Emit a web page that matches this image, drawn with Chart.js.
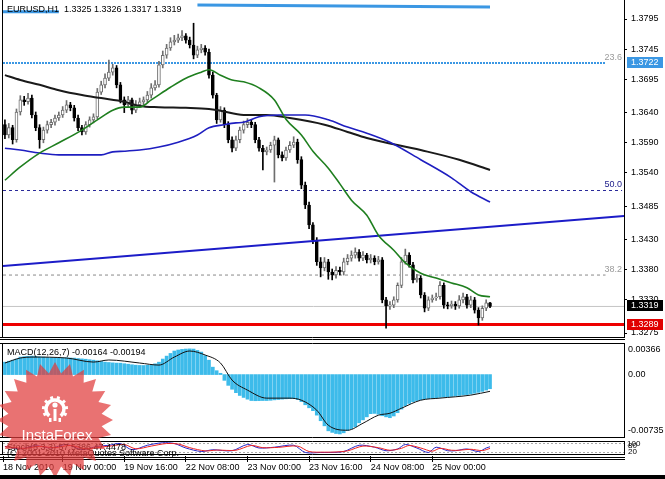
<!DOCTYPE html>
<html>
<head>
<meta charset="utf-8">
<title>EURUSD,H1</title>
<script src="https://cdn.jsdelivr.net/npm/chart.js@4.4.1/dist/chart.umd.min.js"></script>
<style>
  html, body { margin: 0; padding: 0; background: #fff; }
  #wrap { position: relative; width: 665px; height: 479px; overflow: hidden; background: #fff; }
  #wrap canvas { position: absolute; left: 0; }
  #main { top: 0; }
  #macd { top: 338px; }
  #stoch { top: 438px; }
  #logo { top: 0; pointer-events: none; }
  #strip { position: absolute; left: 0; top: 475px; width: 665px; height: 4px; background: #000; }
</style>
</head>
<body>
<div id="wrap">
  <canvas id="main" width="665" height="338"></canvas>
  <canvas id="macd" width="665" height="100"></canvas>
  <canvas id="stoch" width="665" height="37"></canvas>
  <canvas id="logo" width="665" height="479"></canvas>
  <div id="strip"></div>
</div>
<script>
// EURUSD H1 candles, bar 0 = 18 Nov 2010 09:00
var opens = [1.3620, 1.3603, 1.3615, 1.3595, 1.3641, 1.3661, 1.3658, 1.3664, 1.3636, 1.3615,
  1.3595, 1.3611, 1.3620, 1.3624, 1.3631, 1.3636, 1.3644, 1.3653, 1.3648, 1.3631,
  1.3615, 1.3608, 1.3620, 1.3628, 1.3633, 1.3674, 1.3686, 1.3697, 1.3707, 1.3714,
  1.3686, 1.3661, 1.3653, 1.3661, 1.3644, 1.3653, 1.3658, 1.3661, 1.3669, 1.3681,
  1.3686, 1.3719, 1.3735, 1.3747, 1.3757, 1.3760, 1.3764, 1.3767, 1.3760, 1.3752,
  1.3735, 1.3744, 1.3747, 1.3740, 1.3702, 1.3669, 1.3628, 1.3644, 1.3620, 1.3595,
  1.3581, 1.3595, 1.3611, 1.3620, 1.3624, 1.3620, 1.3595, 1.3581, 1.3575, 1.3578,
  1.3586, 1.3595, 1.3570, 1.3565, 1.3578, 1.3586, 1.3591, 1.3562, 1.3520, 1.3487,
  1.3454, 1.3429, 1.3393, 1.3383, 1.3393, 1.3376, 1.3371, 1.3379, 1.3376, 1.3393,
  1.3399, 1.3404, 1.3409, 1.3399, 1.3404, 1.3396, 1.3399, 1.3393, 1.3396, 1.3330,
  1.3320, 1.3321, 1.3330, 1.3354, 1.3393, 1.3404, 1.3388, 1.3363, 1.3366, 1.3338,
  1.3316, 1.3330, 1.3333, 1.3335, 1.3354, 1.3321, 1.3320, 1.3323, 1.3320, 1.3330,
  1.3335, 1.3321, 1.3330, 1.3313, 1.3300, 1.3316, 1.3325];
var closes = [1.3603, 1.3615, 1.3595, 1.3641, 1.3661, 1.3658, 1.3664, 1.3636, 1.3615, 1.3595,
  1.3611, 1.3620, 1.3624, 1.3631, 1.3636, 1.3644, 1.3653, 1.3648, 1.3631, 1.3615,
  1.3608, 1.3620, 1.3628, 1.3633, 1.3674, 1.3686, 1.3697, 1.3707, 1.3714, 1.3686,
  1.3661, 1.3653, 1.3661, 1.3644, 1.3653, 1.3658, 1.3661, 1.3669, 1.3681, 1.3686,
  1.3719, 1.3735, 1.3747, 1.3757, 1.3760, 1.3764, 1.3767, 1.3760, 1.3752, 1.3735,
  1.3744, 1.3747, 1.3740, 1.3702, 1.3669, 1.3628, 1.3644, 1.3620, 1.3595, 1.3581,
  1.3595, 1.3611, 1.3620, 1.3624, 1.3620, 1.3595, 1.3581, 1.3575, 1.3578, 1.3586,
  1.3595, 1.3570, 1.3565, 1.3578, 1.3586, 1.3591, 1.3562, 1.3520, 1.3487, 1.3454,
  1.3429, 1.3393, 1.3383, 1.3393, 1.3376, 1.3371, 1.3379, 1.3376, 1.3393, 1.3399,
  1.3404, 1.3409, 1.3399, 1.3404, 1.3396, 1.3399, 1.3393, 1.3396, 1.3330, 1.3320,
  1.3321, 1.3330, 1.3354, 1.3393, 1.3404, 1.3388, 1.3363, 1.3366, 1.3338, 1.3316,
  1.3330, 1.3333, 1.3335, 1.3354, 1.3321, 1.3320, 1.3323, 1.3320, 1.3330, 1.3335,
  1.3321, 1.3330, 1.3313, 1.3300, 1.3316, 1.3325, 1.3319];
var highs = [1.3628, 1.3622, 1.3619, 1.3646, 1.3668, 1.3667, 1.3672, 1.3669, 1.3641, 1.3620,
  1.3616, 1.3626, 1.3629, 1.3636, 1.3641, 1.3650, 1.3660, 1.3657, 1.3652, 1.3636,
  1.3619, 1.3625, 1.3633, 1.3638, 1.3680, 1.3692, 1.3704, 1.3727, 1.3720, 1.3718,
  1.3690, 1.3666, 1.3667, 1.3664, 1.3660, 1.3664, 1.3666, 1.3675, 1.3688, 1.3693,
  1.3725, 1.3742, 1.3753, 1.3764, 1.3768, 1.3770, 1.3776, 1.3771, 1.3765, 1.3788,
  1.3750, 1.3753, 1.3751, 1.3745, 1.3707, 1.3672, 1.3650, 1.3648, 1.3625, 1.3600,
  1.3601, 1.3616, 1.3626, 1.3630, 1.3628, 1.3624, 1.3599, 1.3586, 1.3583, 1.3591,
  1.3601, 1.3598, 1.3575, 1.3583, 1.3592, 1.3600, 1.3596, 1.3567, 1.3525, 1.3492,
  1.3458, 1.3433, 1.3400, 1.3400, 1.3397, 1.3381, 1.3385, 1.3384, 1.3399, 1.3405,
  1.3411, 1.3416, 1.3413, 1.3410, 1.3407, 1.3405, 1.3403, 1.3402, 1.3400, 1.3334,
  1.3327, 1.3335, 1.3358, 1.3400, 1.3414, 1.3408, 1.3392, 1.3372, 1.3370, 1.3342,
  1.3335, 1.3338, 1.3341, 1.3360, 1.3358, 1.3326, 1.3328, 1.3327, 1.3337, 1.3341,
  1.3339, 1.3336, 1.3334, 1.3317, 1.3320, 1.3330, 1.3326];
var lows = [1.3597, 1.3598, 1.3588, 1.3591, 1.3636, 1.3652, 1.3654, 1.3631, 1.3610, 1.3581,
  1.3590, 1.3606, 1.3615, 1.3619, 1.3627, 1.3632, 1.3640, 1.3643, 1.3626, 1.3610,
  1.3603, 1.3604, 1.3616, 1.3623, 1.3630, 1.3670, 1.3681, 1.3693, 1.3702, 1.3681,
  1.3656, 1.3640, 1.3648, 1.3638, 1.3640, 1.3649, 1.3653, 1.3657, 1.3664, 1.3677,
  1.3682, 1.3714, 1.3730, 1.3743, 1.3752, 1.3756, 1.3759, 1.3755, 1.3747, 1.3729,
  1.3731, 1.3739, 1.3735, 1.3697, 1.3664, 1.3622, 1.3624, 1.3615, 1.3590, 1.3575,
  1.3577, 1.3590, 1.3606, 1.3615, 1.3615, 1.3590, 1.3576, 1.3545, 1.3570, 1.3574,
  1.3525, 1.3565, 1.3560, 1.3561, 1.3574, 1.3582, 1.3556, 1.3514, 1.3481, 1.3448,
  1.3423, 1.3387, 1.3368, 1.3378, 1.3364, 1.3363, 1.3366, 1.3371, 1.3371, 1.3388,
  1.3394, 1.3399, 1.3394, 1.3395, 1.3391, 1.3391, 1.3388, 1.3389, 1.3325, 1.3283,
  1.3314, 1.3317, 1.3326, 1.3350, 1.3389, 1.3384, 1.3358, 1.3359, 1.3333, 1.3310,
  1.3312, 1.3326, 1.3329, 1.3331, 1.3316, 1.3315, 1.3316, 1.3314, 1.3316, 1.3325,
  1.3316, 1.3317, 1.3308, 1.3288, 1.3296, 1.3312, 1.3317];

var priceTicks = [1.3795, 1.3745, 1.3695, 1.3640, 1.3590, 1.3540, 1.3485, 1.3430, 1.3380, 1.3330, 1.3275];

// moving averages: [bar, price]
var maFast = [[0, 1.3528], [4, 1.3550], [9, 1.3573], [14, 1.3590], [20, 1.3611], [24, 1.3628], [28, 1.3644],
  [31, 1.3649], [35, 1.3649], [38, 1.3661], [43, 1.3682], [47, 1.3697], [51, 1.3707], [53, 1.3711], [56, 1.3702],
  [59, 1.3694], [62, 1.3691], [66, 1.3681], [70, 1.3661], [73, 1.3629], [77, 1.3603], [80, 1.3576], [84, 1.3548],
  [87, 1.3522], [90, 1.3495], [94, 1.3470], [97, 1.3437], [101, 1.3412], [104, 1.3391], [108, 1.3374],
  [112, 1.3366], [116, 1.3358], [120, 1.3350], [123, 1.3338], [126, 1.3335]];
var maMid = [[0, 1.3581], [4, 1.3578], [9, 1.3573], [14, 1.3570], [20, 1.3570], [25, 1.3570], [28, 1.3575],
  [31, 1.3576], [35, 1.3578], [40, 1.3583], [45, 1.3591], [50, 1.3603], [53, 1.3615], [57, 1.3620], [60, 1.3623],
  [62, 1.3624], [66, 1.3633], [71, 1.3636], [78, 1.3636], [84, 1.3628], [89, 1.3616], [94, 1.3606], [100, 1.3591],
  [108, 1.3562], [116, 1.3532], [121, 1.3509], [126, 1.3492]];
var maSlow = [[0, 1.3702], [4, 1.3694], [9, 1.3686], [14, 1.3677], [20, 1.3669], [25, 1.3664], [31, 1.3658],
  [35, 1.3651], [40, 1.3649], [47, 1.3648], [53, 1.3646], [56, 1.3643], [62, 1.3636], [68, 1.3636], [74, 1.3631],
  [83, 1.3620], [89, 1.3608], [94, 1.3598], [108, 1.3578], [118, 1.3562], [126, 1.3545]];

// drawn objects: [bar, price]
var trendLine = [[-0.5, 1.33859], [160.8, 1.34687]];
var topLineLeft = [[-0.5, 1.3807], [14, 1.3807]];
var topLineRight = [[50, 1.3818], [126, 1.3815]];
var fibNames = ['23.6', '50.0', '38.2'];
var fibPrices = [1.3722, 1.3511, 1.3371];
var fibEnds = [156, 160.3, 156];
var lastPrice = 1.3319;
var supportPrice = 1.3289;

// MACD(12,26,7)
var macdHist = [0.00144, 0.00155, 0.00167, 0.00180, 0.00203, 0.00208, 0.00212, 0.00214, 0.00210, 0.00206,
  0.00203, 0.00198, 0.00195, 0.00192, 0.00191, 0.00193, 0.00195, 0.00192, 0.00191, 0.00186,
  0.00182, 0.00178, 0.00172, 0.00167, 0.00160, 0.00152, 0.00144, 0.00140, 0.00136, 0.00133,
  0.00132, 0.00126, 0.00120, 0.00114, 0.00109, 0.00106, 0.00105, 0.00107, 0.00109, 0.00125,
  0.00144, 0.00180, 0.00214, 0.00245, 0.00273, 0.00285, 0.00292, 0.00296, 0.00298, 0.00296,
  0.00280, 0.00261, 0.00220, 0.00167, 0.00086, 0.00045, 0.00015, -0.00067, -0.00125, -0.00170,
  -0.00210, -0.00242, -0.00265, -0.00285, -0.00301, -0.00303, -0.00302, -0.00301, -0.00301, -0.00298,
  -0.00293, -0.00289, -0.00285, -0.00281, -0.00279, -0.00278, -0.00290, -0.00313, -0.00350, -0.00385,
  -0.00418, -0.00470, -0.00535, -0.00594, -0.00652, -0.00670, -0.00683, -0.00688, -0.00675, -0.00650,
  -0.00629, -0.00605, -0.00559, -0.00525, -0.00490, -0.00453, -0.00450, -0.00460, -0.00477, -0.00490,
  -0.00500, -0.00480, -0.00442, -0.00400, -0.00360, -0.00335, -0.00315, -0.00301, -0.00292, -0.00285,
  -0.00278, -0.00273, -0.00268, -0.00264, -0.00260, -0.00257, -0.00254, -0.00248, -0.00242, -0.00237,
  -0.00232, -0.00225, -0.00216, -0.00206, -0.00195, -0.00180, -0.00164];
var macdSignal = [[0, 0.00134], [4, 0.00192], [7, 0.00203], [16, 0.00192], [23, 0.00145], [27, 0.00169],
  [35, 0.00134], [40, 0.00110], [44, 0.00203], [48, 0.00273], [52, 0.00227], [56, 0.00134], [59, -0.00064],
  [63, -0.00180], [68, -0.00273], [74, -0.00273], [77, -0.00297], [81, -0.00413], [84, -0.00587],
  [89, -0.00645], [93, -0.00564], [97, -0.00471], [100, -0.00448], [103, -0.00390], [108, -0.00297],
  [113, -0.00273], [121, -0.00238], [126, -0.00194]];
var macdTicks = [0.00366, 0.00, -0.00735];

// Stochastic(5,3,3): [bar, value]
var stochMain = [[0, 60], [4, 45], [8, 65], [12, 50], [16, 72], [20, 40], [24, 60], [27, 67], [30, 78], [33, 39],
  [37, 67], [41, 83], [44, 78], [47, 50], [51, 28], [54, 39], [59, 33], [63, 72], [66, 50], [70, 55], [75, 67],
  [78, 22], [82, 22], [84, 22], [88, 28], [92, 67], [96, 55], [99, 33], [102, 44], [104, 72], [107, 50],
  [110, 22], [112, 55], [115, 33], [117, 33], [120, 44], [123, 28], [125, 50], [126, 57.54]];
var stochSignal = [[0, 58], [5, 48], [9, 60], [13, 52], [17, 66], [21, 45], [25, 56], [28, 64], [31, 72],
  [34, 45], [38, 62], [42, 78], [45, 75], [48, 52], [52, 32], [55, 37], [60, 36], [64, 66], [67, 52], [71, 54],
  [76, 62], [79, 28], [83, 24], [86, 25], [89, 32], [93, 62], [97, 52], [100, 36], [103, 48], [105, 66],
  [108, 50], [111, 30], [113, 48], [116, 36], [118, 36], [121, 42], [124, 34], [126, 47.45]];

var timeLabels = ['18 Nov 2010', '19 Nov 00:00', '19 Nov 16:00', '22 Nov 08:00', '23 Nov 00:00',
  '23 Nov 16:00', '24 Nov 08:00', '25 Nov 00:00'];
var timeBars = [-0.5, 15, 31, 47, 63, 79, 95, 111];

var FONT = '"Liberation Sans", Arial, sans-serif';
Chart.defaults.font.family = FONT;
Chart.defaults.font.size = 9;
Chart.defaults.color = '#000';
Chart.defaults.animation = false;

var X_MIN = -0.5, X_MAX = 160.8;
var idx = closes.map(function (c, i) { return i; });
var bull = idx.map(function (i) { return closes[i] >= opens[i]; });

function pts(arr) {
    return arr.map(function (p) { return {x: p[0], y: p[1]}; });
}
function level(price, end) {
    return [{x: X_MIN, y: price}, {x: end, y: price}];
}
// fixed axis width, and no extra room for half labels at the ends
function fixWidth(s) {
    s.width = 41;
    s.paddingTop = 0;
    s.paddingBottom = 0;
}

function baseOptions() {
    return {
        responsive: false,
        devicePixelRatio: 1,
        events: [],
        plugins: {legend: {display: false}, tooltip: {enabled: false}},
        elements: {point: {radius: 0}}
    };
}

function text(ctx, str, x, y, color, align) {
    ctx.fillStyle = color || '#000';
    ctx.textAlign = align || 'left';
    ctx.textBaseline = 'middle';
    ctx.fillText(str, x, y);
}

function hline(ctx, y, x0, x1) {
    ctx.moveTo(x0, y);
    ctx.lineTo(x1, y);
}

/*------------------------------------------------------------------------------------------*/
// main price panel
var mainOpts = baseOptions();
mainOpts.layout = {padding: {top: 3, bottom: 1, left: 3, right: 0}};
mainOpts.scales = {
    x: {type: 'linear', min: X_MIN, max: X_MAX, offset: false, display: false},
    y: {
        position: 'right', min: 1.32684, max: 1.38215, afterFit: fixWidth,
        afterBuildTicks: function (s) { s.ticks = priceTicks.map(function (v) { return {value: v}; }); },
        ticks: {padding: 4, autoSkip: false, color: '#000', callback: function (v) { return v.toFixed(4); }},
        grid: {drawOnChartArea: false, drawTicks: true, tickLength: 3, color: '#000'},
        border: {display: false}
    }
};

var mainDecor = {
    id: 'mainDecor',
    afterDraw: function (chart) {
        var ctx = chart.ctx, y = chart.scales.y;
        ctx.save();
        ctx.strokeStyle = '#000';
        ctx.lineWidth = 1;
        ctx.beginPath();
        ctx.moveTo(2.5, 0); ctx.lineTo(2.5, 337.5);
        ctx.moveTo(624.5, 0); ctx.lineTo(624.5, 337.5);
        hline(ctx, 337.5, 0, 625);
        ctx.stroke();

        ctx.font = '9px ' + FONT;
        text(ctx, 'EURUSD,H1  1.3325 1.3326 1.3317 1.3319', 7, 10);

        // fibo level captions
        var capColors = ['#9a9a9a', '#20208c', '#9a9a9a'];
        fibPrices.forEach(function (p, k) {
            text(ctx, fibNames[k], 622, y.getPixelForValue(p) - 6, capColors[k], 'right');
        });

        // price boxes on the axis
        var boxes = [[1.3722, '#3b97e3'], [lastPrice, '#000000'], [supportPrice, '#e00000']];
        boxes.forEach(function (b) {
            var py = Math.round(y.getPixelForValue(b[0]));
            ctx.fillStyle = b[1];
            ctx.fillRect(627, py - 6, 36, 11);
            text(ctx, b[0].toFixed(4), 631, py, '#fff');
        });
        ctx.restore();
    }
};

new Chart(document.getElementById('main'), {
    type: 'line',
    data: {
        datasets: [
            {
                type: 'bar', order: 20, grouped: false, barThickness: 1,
                data: idx.map(function (i) { return {x: i, y: [lows[i], highs[i]]}; }),
                backgroundColor: idx.map(function (i) { return bull[i] ? '#6e6e6e' : '#000'; })
            },
            {
                type: 'bar', order: 19, grouped: false, barThickness: 3, minBarLength: 1,
                borderWidth: 1, borderSkipped: false,
                data: idx.map(function (i) { return {x: i, y: [opens[i], closes[i]]}; }),
                backgroundColor: idx.map(function (i) { return bull[i] ? '#ffffff' : '#000'; }),
                borderColor: idx.map(function (i) { return bull[i] ? '#6e6e6e' : '#000'; })
            },
            // horizontal levels
            {data: level(fibPrices[0], fibEnds[0]), borderColor: '#3b97e3', borderWidth: 2, borderDash: [2, 1], order: 30},
            {data: level(fibPrices[1], fibEnds[1]), borderColor: '#2a2a9a', borderWidth: 1, borderDash: [3, 3], order: 30},
            {data: level(fibPrices[2], fibEnds[2]), borderColor: '#8a8a8a', borderWidth: 1, borderDash: [3, 3], order: 30},
            {data: level(lastPrice, X_MAX), borderColor: '#c4c4c4', borderWidth: 1, order: 30},
            {data: level(supportPrice, X_MAX), borderColor: '#ee0000', borderWidth: 3, order: 30},
            // channel tops
            {data: pts(topLineLeft), borderColor: '#3b97e3', borderWidth: 3, order: 5},
            {data: pts(topLineRight), borderColor: '#3b97e3', borderWidth: 3, order: 5},
            // trend line
            {data: pts(trendLine), borderColor: '#1c1cc8', borderWidth: 2, order: 4},
            // moving averages
            {data: pts(maSlow), borderColor: '#1a1a1a', borderWidth: 2, cubicInterpolationMode: 'monotone', order: 3},
            {data: pts(maMid), borderColor: '#1e1ec0', borderWidth: 1.6, cubicInterpolationMode: 'monotone', order: 2},
            {data: pts(maFast), borderColor: '#1f7f1f', borderWidth: 1.6, cubicInterpolationMode: 'monotone', order: 1}
        ]
    },
    options: mainOpts,
    plugins: [mainDecor]
});

/*------------------------------------------------------------------------------------------*/
// MACD panel
var macdOpts = baseOptions();
macdOpts.layout = {padding: {top: 5, bottom: 0, left: 3, right: 0}};
macdOpts.scales = {
    x: {type: 'linear', min: X_MIN, max: X_MAX, offset: false, display: false},
    y: {
        position: 'right', min: -0.00735, max: 0.00366, afterFit: fixWidth,
        ticks: {display: false}, grid: {display: false}, border: {display: false}
    }
};

var macdDecor = {
    id: 'macdDecor',
    afterDraw: function (chart) {
        var ctx = chart.ctx, y = chart.scales.y;
        ctx.save();
        ctx.strokeStyle = '#000';
        ctx.lineWidth = 1;
        ctx.beginPath();
        hline(ctx, 1.5, 0, 625);
        hline(ctx, 5.5, 0, 625);
        hline(ctx, 99.5, 0, 625);
        ctx.moveTo(2.5, 5.5); ctx.lineTo(2.5, 99.5);
        ctx.moveTo(624.5, 5.5); ctx.lineTo(624.5, 99.5);
        ctx.stroke();

        ctx.font = '9px ' + FONT;
        var shift = [7, 0, -7];
        macdTicks.forEach(function (v, k) {
            var py = y.getPixelForValue(v) + shift[k];
            var lbl = k === 1 ? '0.00' : v.toFixed(5);
            text(ctx, lbl, 628, py);
        });
        text(ctx, 'MACD(12,26,7) -0.00164 -0.00194', 7, 15);
        ctx.restore();
    }
};

new Chart(document.getElementById('macd'), {
    type: 'line',
    data: {
        datasets: [
            {
                type: 'bar', order: 2, grouped: false, barThickness: 3,
                data: idx.map(function (i) { return {x: i, y: macdHist[i]}; }),
                backgroundColor: '#3dbbea'
            },
            {data: pts(macdSignal), borderColor: '#111', borderWidth: 1, cubicInterpolationMode: 'monotone', order: 1}
        ]
    },
    options: macdOpts,
    plugins: [macdDecor]
});

/*------------------------------------------------------------------------------------------*/
// Stochastic panel + time axis
var stochOpts = baseOptions();
stochOpts.layout = {padding: {top: 2, bottom: 0, left: 3, right: 0}};
stochOpts.scales = {
    x: {
        type: 'linear', min: X_MIN, max: X_MAX, offset: false, position: 'bottom',
        afterFit: function (s) { s.height = 19; },
        afterBuildTicks: function (s) { s.ticks = timeBars.map(function (v) { return {value: v}; }); },
        ticks: {
            autoSkip: false, maxRotation: 0, align: 'start', padding: 0, color: '#000',
            callback: function (v, k) { return timeLabels[k]; }
        },
        grid: {drawOnChartArea: false, drawTicks: true, tickLength: 6, color: '#000'},
        border: {display: false}
    },
    y: {
        position: 'right', min: 0, max: 100, afterFit: fixWidth,
        afterBuildTicks: function (s) { s.ticks = [{value: 20}, {value: 80}]; },
        ticks: {display: false},
        grid: {drawTicks: false, color: '#a8a8a8'},
        border: {display: false, dash: [2, 2]}
    }
};

var stochDecor = {
    id: 'stochDecor',
    afterDraw: function (chart) {
        var ctx = chart.ctx;
        ctx.save();
        ctx.strokeStyle = '#000';
        ctx.lineWidth = 1;
        ctx.beginPath();
        hline(ctx, 3.5, 0, 625);
        hline(ctx, 16.5, 0, 625);
        hline(ctx, 19.5, 0, 625);
        hline(ctx, 21.5, 0, 625);
        ctx.moveTo(2.5, 3.5); ctx.lineTo(2.5, 16.5);
        ctx.moveTo(624.5, 3.5); ctx.lineTo(624.5, 16.5);
        ctx.stroke();

        ctx.font = '9px ' + FONT;
        text(ctx, 'Stoch(5,3,3) 57.5386 47.4478', 7, 10);
        text(ctx, '(C) 2001-2010 MetaQuotes Software Corp.', 7, 16);
        ctx.font = '8px ' + FONT;
        text(ctx, '100', 627, 6);
        text(ctx, '80', 628, 8);
        text(ctx, '20', 628, 14);
        ctx.restore();
    }
};

new Chart(document.getElementById('stoch'), {
    type: 'line',
    data: {
        datasets: [
            {data: pts(stochSignal), borderColor: '#ee2222', borderWidth: 1, tension: 0.3},
            {data: pts(stochMain), borderColor: '#2626c8', borderWidth: 1, tension: 0.3}
        ]
    },
    options: stochOpts,
    plugins: [stochDecor]
});

/*------------------------------------------------------------------------------------------*/
// InstaForex watermark
(function () {
    var ctx = document.getElementById('logo').getContext('2d');
    var cx = 55, cy = 420, R = 58, r = 47, n = 24;
    ctx.fillStyle = 'rgba(225, 60, 60, 0.72)';
    ctx.beginPath();
    for (var k = 0; k < 2 * n; k++) {
        var a = -Math.PI / 2 + k * Math.PI / n;
        var rr = k % 2 ? r : R;
        ctx.lineTo(cx + rr * Math.cos(a), cy + rr * Math.sin(a));
    }
    ctx.closePath();
    ctx.fill();

    // cog with an "i"
    ctx.strokeStyle = '#fff';
    ctx.fillStyle = '#fff';
    ctx.lineWidth = 3.5;
    ctx.beginPath();
    ctx.arc(55, 409, 9, Math.PI * 0.72, Math.PI * 2.28);
    ctx.stroke();
    for (var t = 0; t < 8; t++) {
        var ang = Math.PI * 0.85 + t * Math.PI * 1.3 / 7;
        ctx.save();
        ctx.translate(55 + 11.5 * Math.cos(ang), 409 + 11.5 * Math.sin(ang));
        ctx.rotate(ang);
        ctx.fillRect(-1.5, -1.5, 3, 3);
        ctx.restore();
    }
    ctx.beginPath();
    ctx.arc(55, 405, 2.6, 0, Math.PI * 2);
    ctx.fill();
    ctx.fillRect(53.5, 409, 3, 12);
    ctx.fillRect(49, 418, 2.5, 4);
    ctx.fillRect(58.5, 418, 2.5, 4);

    ctx.font = '15px ' + FONT;
    ctx.textAlign = 'center';
    ctx.textBaseline = 'alphabetic';
    ctx.fillText('InstaForex', 57, 440);
})();
</script>
</body>
</html>
